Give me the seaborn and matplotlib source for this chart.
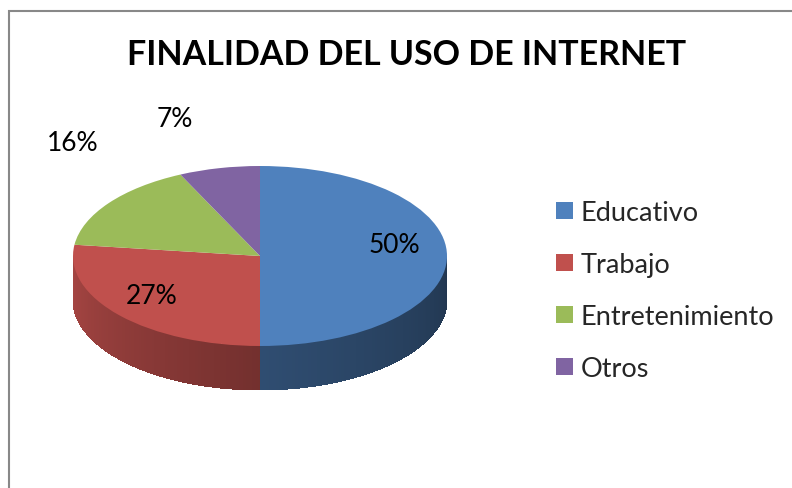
import numpy as np
import matplotlib
matplotlib.use("Agg")
import matplotlib.pyplot as plt
import seaborn as sns
from matplotlib.patches import Rectangle
from matplotlib.collections import PolyCollection

# datos
categorias = ['Educativo', 'Trabajo', 'Entretenimiento', 'Otros']
porcentajes = [50, 27, 16, 7]
etiquetas = ['50%', '27%', '16%', '7%']
colores = ['#4F81BD', '#C0504D', '#9BBB59', '#8064A2']

sns.set_theme(style='white')
plt.rcParams['font.family'] = ['Lato', 'DejaVu Sans']

W, H = 792, 489
fig = plt.figure(figsize=(W / 100, H / 100), dpi=100)
fig.patch.set_facecolor('white')

# marco del grafico
fig.patches.append(Rectangle((9 / W, -0.1), 2.0, (H - 12) / H + 0.1,
                             transform=fig.transFigure, fill=False,
                             edgecolor='#888888', lw=1.5))

fig.text(407 / W, 1 - 55 / H, 'FINALIDAD DEL USO DE INTERNET',
         ha='center', va='center', fontsize=24.5, fontweight='bold', color='black')

# ejes del pastel: elipse (cx=260, cy=257, a=187, b=90), profundidad 44 px
cx, cy, a, b, prof = 260, 257, 187, 90, 44
d = prof / b
left_px, right_px = cx - a, cx + a
top_px, bot_px = cy - b, cy + b + prof
ax = fig.add_axes([left_px / W, 1 - bot_px / H, (right_px - left_px) / W, (bot_px - top_px) / H])

wedges, _ = ax.pie(porcentajes, colors=colores, startangle=90, counterclock=False,
                   wedgeprops=dict(linewidth=0, zorder=3))
ax.set_aspect('auto')
ax.set_xlim(-1, 1)
ax.set_ylim(-1 - d, 1)
ax.axis('off')

# costado 3D con sombreado
def factor(t):
    return np.interp(t, [180, 270, 360], [0.88, 0.6, 0.42])

for w, col in zip(wedges, colores):
    t1, t2 = w.theta1 % 360, w.theta2 % 360
    if t2 <= t1:
        t2 += 360
    polys, cols = [], []
    base = np.array(matplotlib.colors.to_rgb(col))
    for t in np.arange(t1, t2, 1.0):
        tm = t % 360
        if tm < 180:
            continue
        te = min(t + 1.0, t2)
        r0, r1 = np.radians(t), np.radians(te)
        x0, y0 = np.cos(r0), np.sin(r0)
        x1, y1 = np.cos(r1), np.sin(r1)
        polys.append([(x0, y0), (x1, y1), (x1, y1 - d), (x0, y0 - d)])
        cols.append(np.clip(base * factor(tm + 0.5), 0, 1))
    if polys:
        pc = PolyCollection(polys, facecolors=cols, edgecolors='none',
                            antialiaseds=False, zorder=1)
        ax.add_collection(pc)

# etiquetas de porcentaje
rx = [0.72, 0.77, 1.24, 2.08]
ry = [0.0, 0.67, 2.15, 1.56]
oy = [0.13, 0.0, 0.0, 0.0]
for w, txt, fx, fy, dy in zip(wedges, etiquetas, rx, ry, oy):
    tm = np.radians((w.theta1 + w.theta2) / 2)
    ax.text(fx * np.cos(tm), fy * np.sin(tm) + dy, txt, ha='center', va='center',
            fontsize=19, color='black', zorder=5, clip_on=False)

fig.legend(wedges, categorias, loc='upper left', bbox_to_anchor=(545 / W, 1 - 190 / H),
           frameon=False, fontsize=19.5, handlelength=0.62, handleheight=0.62,
           handletextpad=0.3, labelspacing=1.0, borderaxespad=0)

fig.savefig('out.png', dpi=100)
